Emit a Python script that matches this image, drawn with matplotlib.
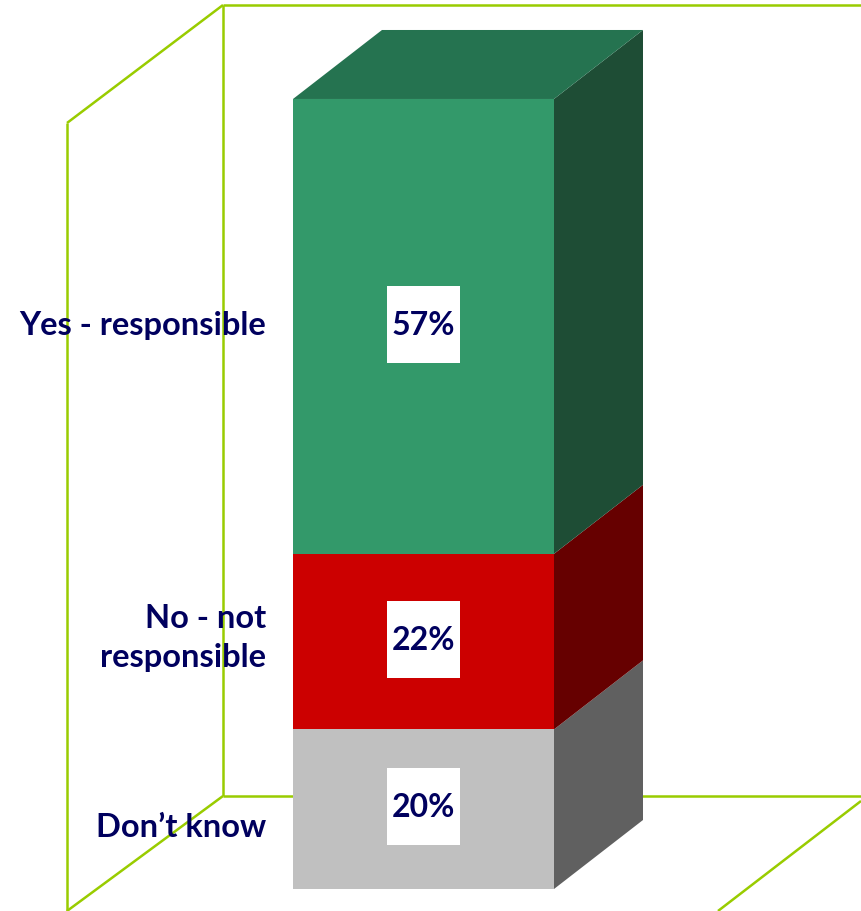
import matplotlib
matplotlib.use("Agg")
import matplotlib.pyplot as plt
from matplotlib.patches import Polygon, Rectangle

# data (bottom -> top of the stacked bar)
categories = ["Don\u2019t know", "No - not\nresponsible", "Yes - responsible"]
values = [20, 22, 57]
front_colors = ["#c0c0c0", "#cc0000", "#33996a"]
side_colors = ["#606060", "#660000", "#1e4d35"]
top_color = "#257350"

navy = "#00005e"
wall = "#99cc00"

# layout: x in bar widths, y in percent
W, H = 861, 912
px_x = 261.0      # pixels per bar width
px_y = 7.98       # pixels per percent
cx_px, base_px = 423.5, 890   # bar centre / base in pixels
dx, dy = 89 / px_x, 69 / px_y  # 3d depth

fig = plt.figure(figsize=(W / 100, H / 100), dpi=100)
ax = fig.add_axes([0, 0, 1, 1])
ax.set_xlim(-cx_px / px_x, (W - cx_px) / px_x)
ax.set_ylim(-(H - base_px) / px_y, base_px / px_y)
ax.axis("off")

def to_x(p):
    return (p - cx_px) / px_x

def to_y(p):
    return (base_px - p) / px_y

# wall frame
wall_lines = [
    [(223, 6), (861, 6)],
    [(223, 6), (223, 797)],
    [(223, 797), (861, 797)],
    [(223, 6), (67, 124)],
    [(67, 124), (67, 912)],
    [(223, 797), (67, 912)],
    [(861, 802), (718, 912)],
]
for seg in wall_lines:
    ax.plot([to_x(p[0]) for p in seg], [to_y(p[1]) for p in seg],
            color=wall, lw=1.8, zorder=1, solid_capstyle="butt")

x0, x1 = -0.5, 0.5
bottom = 0
for i, v in enumerate(values):
    y0, y1 = bottom, bottom + v
    ax.add_patch(Rectangle((x0, y0), 1, v, facecolor=front_colors[i],
                           edgecolor="none", zorder=3))
    ax.add_patch(Polygon([(x1, y0), (x1 + dx, y0 + dy), (x1 + dx, y1 + dy), (x1, y1)],
                         closed=True, facecolor=side_colors[i], edgecolor="none", zorder=2))
    # value label in white box
    bw, bh = 73 / px_x, 77 / px_y
    mid = (y0 + y1) / 2 + 0.3
    ax.add_patch(Rectangle((-bw / 2, mid - bh / 2), bw, bh, facecolor="white",
                           edgecolor="none", zorder=4))
    ax.text(0, mid, f"{v}%", ha="center", va="center", color=navy,
            fontsize=23, fontweight="bold", family="Lato", zorder=5)
    bottom = y1

top = bottom
ax.add_patch(Polygon([(x0, top), (x0 + dx, top + dy), (x1 + dx, top + dy), (x1, top)],
                     closed=True, facecolor=top_color, edgecolor="none", zorder=2))

# category labels
label_shift = [-2.2, 0.6, 0.2]
bottom = 0
for i, v in enumerate(values):
    mid = bottom + v / 2 + label_shift[i]
    ax.text(to_x(266), mid, categories[i], ha="right", va="center", color=navy,
            fontsize=23.5, fontweight="bold", family="Lato", linespacing=1.42, zorder=5)
    bottom += v

fig.savefig("out.png", dpi=100)
